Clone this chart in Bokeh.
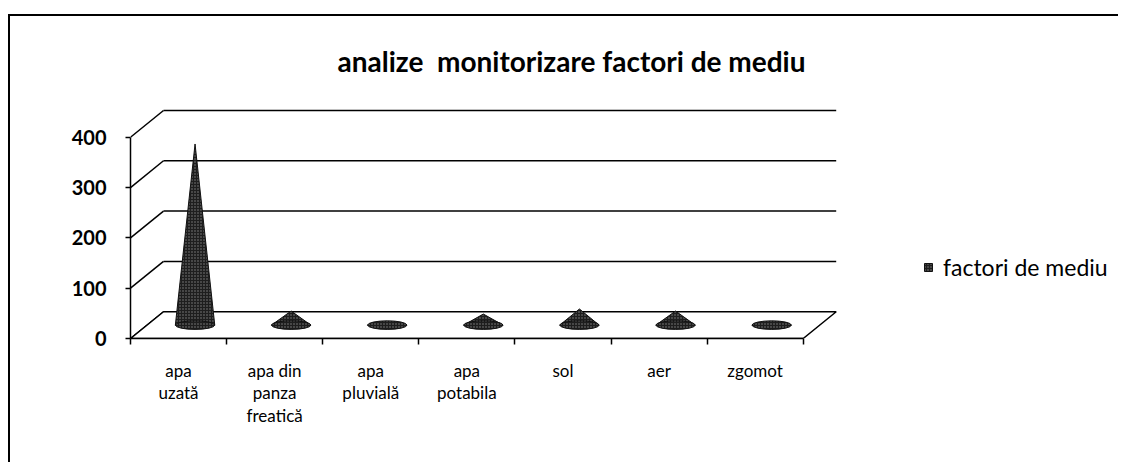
import numpy as np
from bokeh.plotting import figure
from bokeh.models import FixedTicker, Legend, LegendItem, Range1d
from bokeh.embed import file_html
from bokeh.resources import INLINE

# ---- data ----
categories = ["apa\nuzată", "apa din\npanza\nfreatică", "apa\npluvială",
              "apa\npotabila", "sol", "aer", "zgomot"]
values = [360, 28, 2, 22, 32, 28, 2]
y_ticks = [0, 100, 200, 300, 400]
series_name = "factori de mediu"
title_text = "analize\u00a0 monitorizare factori de mediu"

# ---- geometry (pixel scale of the reference) ----
PX_X = 96.1          # px per category
PX_Y = 0.5075        # px per value unit
DX = 33 / PX_X       # depth offset (categories)
DY = 27 / PX_Y       # depth offset (value units)
N = len(categories)
FONT = "Lato"

FRAME_W = 988
FRAME_H = 233
p = figure(width=1110, height=448, output_backend="svg", toolbar_location=None,
           x_range=Range1d(0, FRAME_W / PX_X), y_range=Range1d(0, FRAME_H / PX_Y),
           min_border_left=120, min_border_right=2, min_border_top=89,
           min_border_bottom=126)
p.margin = (14, 0, 0, 8)
p.styles = {"border-left": "2px solid black", "border-top": "2px solid black"}
p.outline_line_color = None
p.background_fill_color = "white"
p.xgrid.visible = False
p.ygrid.visible = False

# title
p.title.text = title_text
p.title.align = "left"
p.title.offset = 207
p.title.vertical_align = "top"
p.title.standoff = 55
p.title.text_font = FONT
p.title.text_font_size = "28px"
p.title.text_font_style = "bold"
p.title.text_color = "black"

# back wall gridlines and side wall diagonals
p.segment(x0=[DX] * (len(y_ticks) - 1), y0=[v + DY for v in y_ticks[1:]],
          x1=[N + DX] * (len(y_ticks) - 1), y1=[v + DY for v in y_ticks[1:]],
          line_color="black", line_width=1.5)
p.segment(x0=[0] * len(y_ticks), y0=y_ticks,
          x1=[DX] * len(y_ticks), y1=[v + DY for v in y_ticks],
          line_color="black", line_width=1.5)

# floor
p.patch(x=[0, N, N + DX, DX], y=[0, 0, DY, DY], fill_color="white",
        line_color="black", line_width=1.5)

# cones
vals = np.array(values, dtype=float)
cx = np.arange(N) + 0.5 + DX / 2
cy = DY / 2
bw = 0.41
bh = 17
xs = [[c - bw / 2, c, c + bw / 2] for c in cx]
ys = [[cy, cy + v, cy] for v in vals]
cone_style = dict(fill_color="#1e1e1e", line_color="#111111", line_width=1,
                  hatch_pattern="dot", hatch_color="white", hatch_alpha=0.45,
                  hatch_scale=3, hatch_weight=0.6)
r_cone = p.patches(xs=xs, ys=ys, **cone_style)
p.ellipse(x=cx, y=[cy] * N, width=bw, height=bh, **cone_style)

# x axis
centers = [i + 0.5 for i in range(N)]
p.xaxis.ticker = FixedTicker(ticks=centers, minor_ticks=list(range(N + 1)))
p.xaxis.major_label_overrides = {c: lab for c, lab in zip(centers, categories)}
p.xaxis.bounds = (0, N)
p.xaxis.major_tick_out = 0
p.xaxis.major_tick_in = 0
p.xaxis.minor_tick_out = 6
p.xaxis.minor_tick_in = 0
p.xaxis.minor_tick_line_width = 1.5
p.xaxis.axis_line_width = 1.5
p.xaxis.axis_line_color = "black"
p.xaxis.minor_tick_line_color = "black"
p.xaxis.major_label_standoff = 15
p.xaxis.major_label_text_font = FONT
p.xaxis.major_label_text_font_size = "17px"
p.xaxis.major_label_text_line_height = 1.08
p.xaxis.major_label_text_color = "black"

# y axis
p.yaxis.ticker = FixedTicker(ticks=y_ticks, minor_ticks=[])
p.yaxis.bounds = (0, 400)
p.yaxis.major_tick_out = 5
p.yaxis.major_tick_in = 0
p.yaxis.major_tick_line_width = 1.5
p.yaxis.axis_line_width = 1.5
p.yaxis.axis_line_color = "black"
p.yaxis.major_tick_line_color = "black"
p.yaxis.major_label_standoff = 19
p.yaxis.major_label_text_font = FONT
p.yaxis.major_label_text_font_size = "20px"
p.yaxis.major_label_text_font_style = "bold"
p.yaxis.major_label_text_color = "black"

# legend (inside the wide frame, to the right of the 3D box)
legend = Legend(items=[LegendItem(label=series_name, renderers=[r_cone])],
                location=(793, 57), glyph_width=10, glyph_height=10,
                border_line_color=None, background_fill_alpha=0,
                padding=0, margin=0, label_standoff=10,
                label_text_font=FONT, label_text_font_size="23px",
                label_text_color="black")
p.add_layout(legend, "center")

open("out.html", "w").write(file_html(p, INLINE))
